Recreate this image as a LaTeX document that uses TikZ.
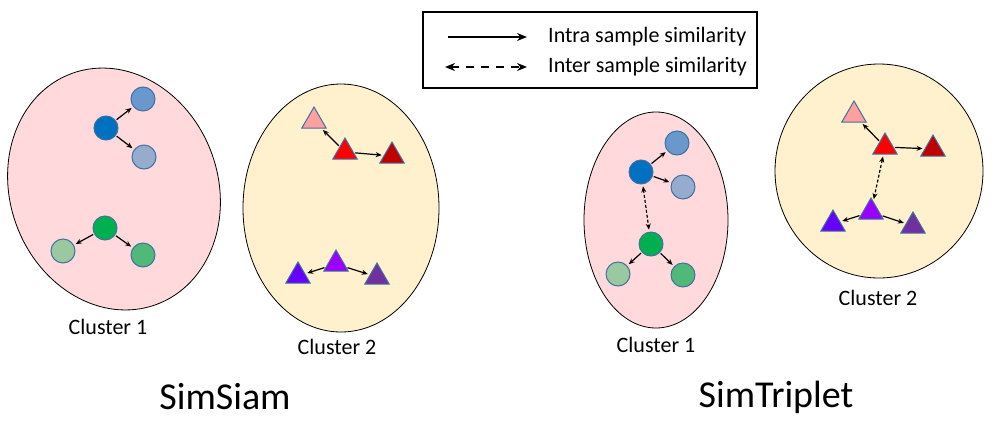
\documentclass[tikz,border=0pt]{standalone}
\usepackage{fontspec}
\setmainfont{Carlito}
\usetikzlibrary{shapes.geometric,arrows.meta}
\definecolor{pinkbg}{RGB}{255,217,220}
\definecolor{creambg}{RGB}{255,240,206}
\definecolor{outl}{RGB}{65,113,156}
\definecolor{bdark}{RGB}{0,112,192}
\definecolor{blight}{RGB}{104,152,204}
\definecolor{bgray}{RGB}{150,172,206}
\definecolor{gdark}{RGB}{0,176,80}
\definecolor{glight}{RGB}{154,200,160}
\definecolor{gmid}{RGB}{80,184,120}
\definecolor{tpink}{RGB}{255,160,160}
\definecolor{tred}{RGB}{255,0,0}
\definecolor{tdred}{RGB}{192,0,0}
\definecolor{tpurp}{RGB}{153,0,255}
\definecolor{tblue}{RGB}{102,0,255}
\definecolor{tdpurp}{RGB}{112,48,160}
\begin{document}
\begin{tikzpicture}[x=1pt,y=-1pt,
  circ/.style={circle, draw=outl, line width=1pt, minimum size=24pt, inner sep=0pt},
  tri/.style={regular polygon, regular polygon sides=3, draw=outl, line width=1pt, minimum size=28pt, inner sep=0pt},
  intra/.style={-{Stealth[length=6pt,width=5pt]}, line width=1.2pt, shorten >=2pt, shorten <=1pt},
  inter/.style={{Stealth[length=6pt,width=5pt]}-{Stealth[length=6pt,width=5pt]}, line width=1.2pt, dash pattern=on 3pt off 2pt, shorten >=2pt, shorten <=2pt},
  clus/.style={draw=black, line width=0.8pt},
  lab/.style={font=\fontsize{22}{26}\selectfont, inner sep=0pt},
  title/.style={font=\fontsize{38}{44}\selectfont, inner sep=0pt}]
\useasboundingbox (0,0) rectangle (1000,426);

% cluster backgrounds
\draw[clus, fill=pinkbg] (114,189) ellipse [x radius=104, y radius=123, rotate=20];
\draw[clus, fill=creambg] (341,208) ellipse [x radius=98, y radius=124];
\draw[clus, fill=pinkbg] (656,220) ellipse [x radius=72, y radius=108];
\draw[clus, fill=creambg] (879,171) ellipse [x radius=104, y radius=107];

% legend
\node[draw=black, line width=2pt, minimum width=334pt, minimum height=76pt, inner sep=0pt] (legend) at (590,50) {};
\coordinate (l1a) at (448,37);
\coordinate (l1b) at (527,37);
\coordinate (l2a) at (445,67);
\coordinate (l2b) at (527,67);
\draw[-{Stealth[length=10pt,width=8pt]}, line width=2pt] (l1a) -- (l1b);
\draw[{Stealth[length=10pt,width=8pt]}-{Stealth[length=10pt,width=8pt]}, line width=2pt, dash pattern=on 8pt off 7pt] (l2a) -- (l2b);
\node[lab, anchor=west] (t1) at (548,37) {Intra sample similarity};
\node[lab, anchor=west] (t2) at (548,67) {Inter sample similarity};

% SimSiam cluster 1
\node[circ, fill=bdark] (a0) at (106,128) {};
\node[circ, fill=blight] (a1) at (143,99) {};
\node[circ, fill=bgray] (a2) at (144,157) {};
\node[circ, fill=gdark] (b0) at (105,228) {};
\node[circ, fill=glight] (b1) at (63,251) {};
\node[circ, fill=gmid] (b2) at (143,255) {};
\draw[intra] (a0) -- (a1);
\draw[intra] (a0) -- (a2);
\draw[intra] (b0) -- (b1);
\draw[intra] (b0) -- (b2);
\node[lab] (c1) at (108,327) {Cluster 1};

% SimSiam cluster 2
\node[tri, fill=tpink] (p1) at (314,121) {};
\node[tri, fill=tred] (p0) at (345,152) {};
\node[tri, fill=tdred] (p2) at (392,156) {};
\node[tri, fill=tpurp] (q0) at (336,264) {};
\node[tri, fill=tblue] (q1) at (298,276) {};
\node[tri, fill=tdpurp] (q2) at (377,277) {};
\draw[intra] (p0) -- (p1);
\draw[intra] (p0) -- (p2);
\draw[intra] (q0) -- (q1);
\draw[intra] (q0) -- (q2);
\node[lab] (c2) at (337,347) {Cluster 2};

\node[title] (ss) at (225,397) {SimSiam};

% SimTriplet cluster 1
\node[circ, fill=bdark] (d0) at (641,172) {};
\node[circ, fill=blight] (d1) at (677,143) {};
\node[circ, fill=bgray] (d2) at (683,187) {};
\node[circ, fill=gdark] (e0) at (651,244) {};
\node[circ, fill=glight] (e1) at (618,274) {};
\node[circ, fill=gmid] (e2) at (683,275) {};
\draw[intra] (d0) -- (d1);
\draw[intra] (d0) -- (d2);
\draw[intra] (e0) -- (e1);
\draw[intra] (e0) -- (e2);
\draw[inter] (d0) -- (e0);
\node[lab] (c3) at (656,345) {Cluster 1};

% SimTriplet cluster 2
\node[tri, fill=tpink] (r1) at (854,115) {};
\node[tri, fill=tred] (r0) at (885,147) {};
\node[tri, fill=tdred] (r2) at (933,149) {};
\node[tri, fill=tpurp] (s0) at (871,212) {};
\node[tri, fill=tblue] (s1) at (833,224) {};
\node[tri, fill=tdpurp] (s2) at (913,226) {};
\draw[intra] (r0) -- (r1);
\draw[intra] (r0) -- (r2);
\draw[intra] (s0) -- (s1);
\draw[intra] (s0) -- (s2);
\draw[inter] (r0) -- (s0);
\node[lab] (c4) at (878,298) {Cluster 2};

\node[title] (st) at (776,397) {SimTriplet};
\end{tikzpicture}
\end{document}
